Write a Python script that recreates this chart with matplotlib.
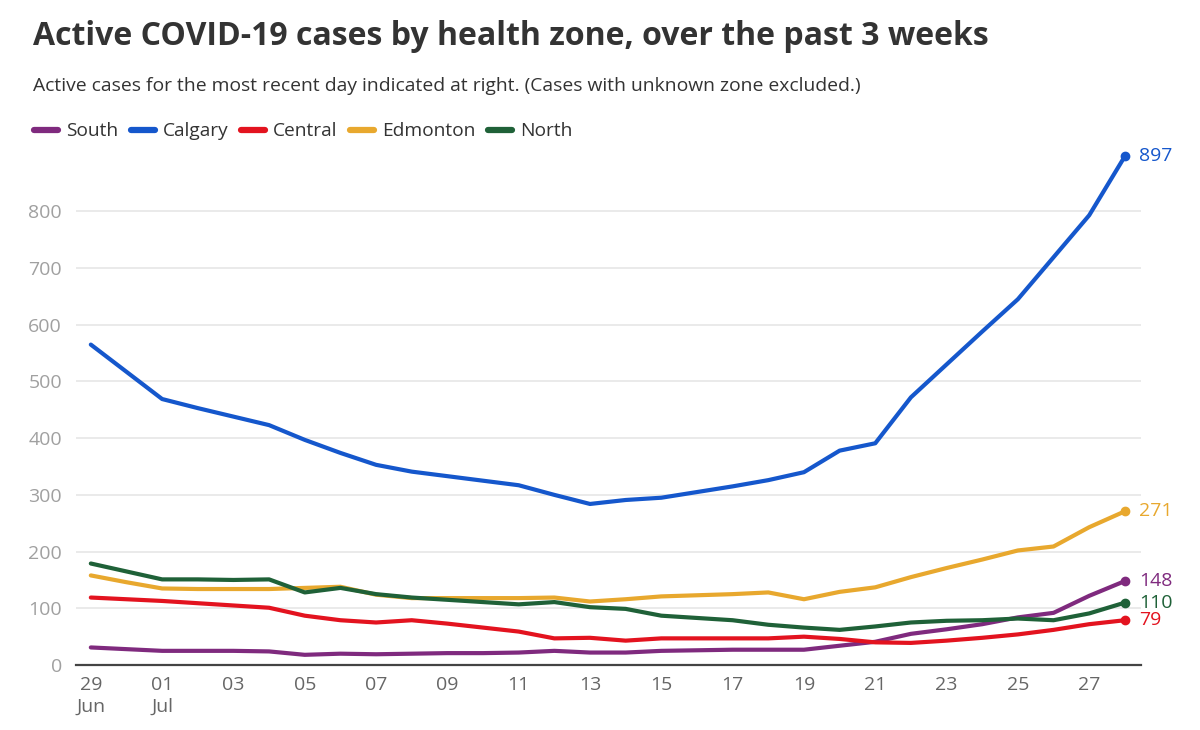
import matplotlib.pyplot as plt
import pandas as pd

dates = pd.date_range('2020-06-29', '2020-07-28', freq='D')

zones = ['South', 'Calgary', 'Central', 'Edmonton', 'North']
colors = ['#7f2a7e', '#1557cc', '#e3131f', '#e8a82e', '#1f6138']

south = [31, 28, 25, 25, 25, 24, 18, 20, 19, 20, 21, 21, 22, 25, 22,
         22, 25, 26, 27, 27, 27, 34, 41, 55, 63, 72, 84, 92, 122, 148]
calgary = [565, 517, 469, 453, 438, 423, 397, 374, 353, 341, 333, 325, 317, 300, 284,
           291, 295, 305, 315, 326, 340, 378, 391, 472, 530, 588, 645, 719, 793, 897]
central = [119, 116, 113, 109, 105, 101, 87, 79, 75, 79, 73, 66, 59, 47, 48,
           43, 47, 47, 47, 47, 50, 46, 40, 39, 43, 48, 54, 62, 72, 79]
edmonton = [158, 146, 135, 134, 134, 134, 136, 138, 124, 118, 118, 118, 118, 119, 112,
            116, 121, 123, 125, 128, 116, 129, 137, 155, 171, 186, 202, 209, 243, 271]
north = [179, 165, 151, 151, 150, 151, 128, 136, 125, 119, 115, 111, 107, 111, 102,
         99, 87, 83, 79, 71, 66, 62, 68, 75, 78, 79, 82, 79, 91, 110]

series = [south, calgary, central, edmonton, north]

plt.rcParams['font.family'] = ['Open Sans', 'DejaVu Sans']

fig = plt.figure(figsize=(12, 7.3), dpi=100)
ax = fig.add_axes([0.0633, 0.089, 0.8877, 0.707])

for name, vals, c in zip(zones, series, colors):
    ax.plot(dates, vals, color=c, lw=3.0, solid_capstyle='round',
            solid_joinstyle='round', label=name)
    ax.plot(dates[-1], vals[-1], 'o', color=c, ms=6)
    ax.annotate(str(vals[-1]), (dates[-1], vals[-1]), xytext=(10, 0),
                textcoords='offset points', color=c, fontsize=14,
                va='center', ha='left', annotation_clip=False)

ax.set_ylim(0, 910)
ax.set_xlim(dates[0] - pd.Timedelta(hours=10), dates[-1] + pd.Timedelta(hours=11))
ax.set_yticks([0, 100, 200, 300, 400, 500, 600, 700, 800])
ax.yaxis.grid(True, color='#e6e6e6', lw=1.2)
ax.set_axisbelow(True)

tick_days = dates[::2]
labels = []
for d in tick_days:
    s = d.strftime('%d')
    if d == dates[0]:
        s += '\nJun'
    elif d.day == 1:
        s += '\nJul'
    labels.append(s)
ax.set_xticks(tick_days)
ax.set_xticklabels(labels, linespacing=1.25)

for sp in ['top', 'right', 'left']:
    ax.spines[sp].set_visible(False)
ax.spines['bottom'].set_color('#444444')
ax.spines['bottom'].set_linewidth(1.6)
ax.tick_params(axis='x', length=0, pad=8, labelsize=14, labelcolor='#666666')
ax.tick_params(axis='y', length=0, pad=10, labelsize=14, labelcolor='#a0a0a0')

fig.text(0.0275, 0.95, 'Active COVID-19 cases by health zone, over the past 3 weeks',
         fontsize=23, fontweight='bold', color='#333333', va='center')
fig.text(0.0275, 0.882,
         'Active cases for the most recent day indicated at right. (Cases with unknown zone excluded.)',
         fontsize=13.9, color='#333333', va='center')

leg = fig.legend(loc='center left', bbox_to_anchor=(0.0285, 0.82), ncol=5, frameon=False,
                 handlelength=1.25, handletextpad=0.42, columnspacing=0.65, fontsize=13.8,
                 labelcolor='#333333', borderaxespad=0, borderpad=0)
for h in leg.get_lines():
    h.set_linewidth(4.5)

fig.savefig('out.png', dpi=100)
